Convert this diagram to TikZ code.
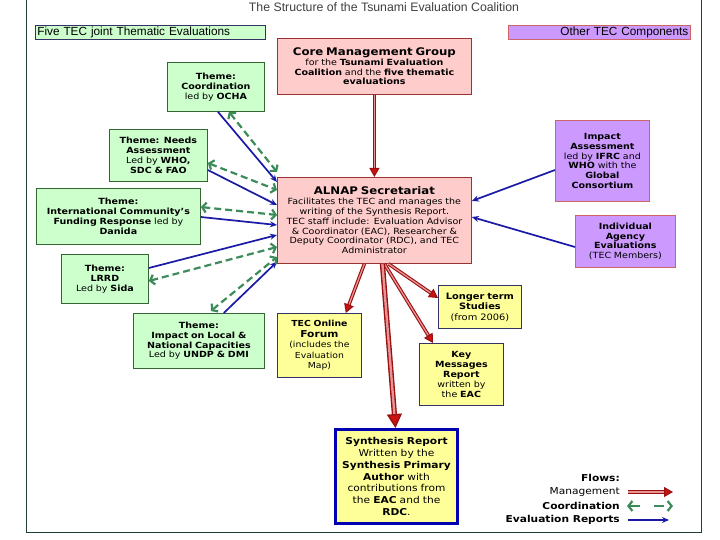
\documentclass[tikz,border=0pt]{standalone}
\usepackage{fontspec}
\setmainfont{DejaVu Sans}[FakeStretch=1.12]
\newfontfamily\arialfont{Liberation Sans}
\usetikzlibrary{arrows.meta,calc}
\definecolor{gfill}{HTML}{CCFFCC}
\definecolor{gdraw}{HTML}{336633}
\definecolor{pfill}{HTML}{FFCCCC}
\definecolor{pdraw}{HTML}{993333}
\definecolor{vfill}{HTML}{CC99FF}
\definecolor{vdraw}{HTML}{CC6666}
\definecolor{yfill}{HTML}{FFFF99}
\definecolor{ydraw}{HTML}{333366}
\definecolor{navy}{HTML}{1A1AA6}
\definecolor{cgreen}{HTML}{3C8C5A}
\definecolor{mred}{HTML}{CC1111}
\definecolor{dred}{HTML}{991111}
\definecolor{framec}{HTML}{1F3F2F}
\tikzset{
  box/.style={draw, line width=0.8pt, align=center, inner sep=1pt, anchor=north west,
    font=\fontsize{8.5}{9.8}\selectfont},
  gbox/.style={box, fill=gfill, draw=gdraw},
  pbox/.style={box, fill=pfill, draw=pdraw},
  vbox/.style={box, fill=vfill, draw=vdraw},
  ybox/.style={box, fill=yfill, draw=ydraw},
  evalflow/.style={draw=navy, line width=1.7pt, -{Stealth[length=7pt,width=6pt]}},
  coordflow/.style={draw=cgreen, line width=2.2pt, dash pattern=on 7pt off 4pt,
    {Straight Barb[length=4pt,width=10pt,line width=2.2pt]}-{Straight Barb[length=4pt,width=10pt,line width=2.2pt]}},
  mgmtflow/.style={draw=dred, double=mred!45, double distance=1.3pt, line width=1.1pt,
    -{Triangle[length=9pt,width=10pt,fill=mred]}},
  bigflow/.style={draw=dred, double=mred!45, double distance=2.4pt, line width=1.4pt,
    -{Triangle[length=14pt,width=15pt,fill=mred]}},
  legtxt/.style={anchor=east, font=\fontsize{9.5}{11}\selectfont, inner sep=1pt}
}
\begin{document}
\begin{tikzpicture}[x=1pt,y=-1pt]
\useasboundingbox (0,0) rectangle (720,540);
\fill[white] (0,0) rectangle (720,540);
\draw[framec, line width=0.8pt] (26,-5) rectangle (701,532);

\node[font=\arialfont\fontsize{12.3}{14}\selectfont, text=black!75] (title) at (384,7) {The Structure of the Tsunami Evaluation Coalition};
\node[draw=ydraw, fill=gfill, line width=0.6pt, anchor=north west, minimum width=230pt, minimum height=14pt, text width=226pt, inner sep=1pt, align=left, font=\arialfont\fontsize{11.8}{12}\selectfont] (legg) at (35,25) {Five TEC joint Thematic Evaluations};
\node[draw=vdraw, fill=vfill, line width=0.6pt, anchor=north west, minimum width=182pt, minimum height=14pt, text width=178pt, inner sep=1pt, align=right, font=\arialfont\fontsize{11.8}{12}\selectfont] (legv) at (508,25) {Other TEC Components};

% core and ALNAP
\node[pbox, minimum width=194pt, minimum height=56pt, text width=190pt] (core) at (277,38)
 {{\fontsize{10.5}{12.5}\selectfont\textbf{Core Management Group}}\\for the \textbf{Tsunami Evaluation}\\\textbf{Coalition} and the \textbf{five thematic}\\\textbf{evaluations}};
\node[pbox, minimum width=194pt, minimum height=86pt, text width=190pt] (alnap) at (277,177)
 {{\fontsize{10.5}{12.5}\selectfont\textbf{ALNAP Secretariat}}\\Facilitates the TEC and manages the\\writing of the Synthesis Report.\\TEC staff include: Evaluation Advisor\\\& Coordinator (EAC), Researcher \&\\Deputy Coordinator (RDC), and TEC\\Administrator};

% green themes
\node[gbox, minimum width=97pt, minimum height=49pt, text width=93pt] (coord) at (167,62)
 {\textbf{Theme:}\\\textbf{Coordination}\\led by \textbf{OCHA}};
\node[gbox, minimum width=98pt, minimum height=52pt, text width=94pt] (needs) at (109,129)
 {\textbf{Theme: Needs}\\\textbf{Assessment}\\Led by \textbf{WHO,}\\\textbf{SDC \& FAO}};
\node[gbox, minimum width=164pt, minimum height=56pt, text width=160pt] (intl) at (36,188)
 {\textbf{Theme:}\\\textbf{International Community's}\\\textbf{Funding Response} led by\\\textbf{Danida}};
\node[gbox, minimum width=87pt, minimum height=49pt, text width=83pt] (lrrd) at (61,254)
 {\textbf{Theme:}\\\textbf{LRRD}\\Led by \textbf{Sida}};
\node[gbox, minimum width=131pt, minimum height=55pt, text width=127pt] (local) at (133,313)
 {\textbf{Theme:}\\\textbf{Impact on Local \&}\\\textbf{National Capacities}\\Led by \textbf{UNDP \& DMI}};

% purple
\node[vbox, minimum width=94pt, minimum height=81pt, text width=90pt] (impact) at (555,120)
 {\textbf{Impact}\\\textbf{Assessment}\\led by \textbf{IFRC} and\\\textbf{WHO} with the\\\textbf{Global}\\\textbf{Consortium}};
\node[vbox, minimum width=100pt, minimum height=52pt, text width=96pt] (indiv) at (575,215)
 {\textbf{Individual}\\\textbf{Agency}\\\textbf{Evaluations}\\(TEC Members)};

% yellow
\node[ybox, minimum width=83pt, minimum height=43pt, text width=79pt, font=\fontsize{8.8}{10.5}\selectfont] (longer) at (438,285)
 {\textbf{Longer term}\\\textbf{Studies}\\(from 2006)};
\node[ybox, minimum width=84pt, minimum height=64pt, text width=80pt, font=\fontsize{8.3}{10.5}\selectfont] (online) at (277,313)
 {\textbf{TEC Online}\\{\fontsize{9.5}{12}\selectfont\textbf{Forum}}\\(includes the\\Evaluation\\Map)};
\node[ybox, minimum width=84pt, minimum height=62pt, text width=80pt] (key) at (419,343)
 {\textbf{Key}\\\textbf{Messages}\\\textbf{Report}\\written by\\the \textbf{EAC}};
\node[ybox, draw=blue!70!black, line width=3pt, minimum width=122pt, minimum height=94pt, text width=118pt, font=\fontsize{9.5}{11.8}\selectfont] (synth) at (334,428)
 {\textbf{Synthesis Report}\\Written by the\\\textbf{Synthesis Primary}\\\textbf{Author} with\\contributions from\\the \textbf{EAC} and the\\\textbf{RDC}.};

% management flows
\draw[mgmtflow] (core.south) -- (alnap.north);
\draw[mgmtflow] ([xshift=-10pt]alnap.south) -- ([xshift=-16pt]online.north east);
\draw[mgmtflow] ([xshift=14pt]alnap.south) -- ([yshift=-13pt]longer.north west);
\draw[mgmtflow] ([xshift=10pt]alnap.south) -- ([xshift=14pt]key.north west);
\draw[bigflow] ([xshift=8pt]alnap.south) -- ([xshift=-1pt]synth.north);

% evaluation report flows (left)
\draw[evalflow] ([xshift=2pt]coord.south) -- ([yshift=-5pt]alnap.north west);
\draw[evalflow] ([yshift=-41pt]needs.north east) -- ([yshift=-28pt]alnap.north west);
\draw[evalflow] ([yshift=-29pt]intl.north east) -- ([yshift=-48pt]alnap.north west);
\draw[evalflow] ([yshift=-14pt]lrrd.north east) -- ([yshift=-58pt]alnap.north west);
\draw[evalflow] ([xshift=-41pt]local.north east) -- ([yshift=2pt]alnap.south west);
% right
\draw[evalflow] ([yshift=-50pt]impact.north west) -- ([yshift=-24pt]alnap.north east);
\draw[evalflow] ([yshift=-32pt]indiv.north west) -- ([yshift=-40pt]alnap.north east);

% coordination flows
\draw[coordflow] ([xshift=13pt]coord.south) -- ([yshift=5pt]alnap.north west);
\draw[coordflow] ([yshift=-34pt]needs.north east) -- ([yshift=-13pt]alnap.north west);
\draw[coordflow] ([yshift=-19pt]intl.north east) -- ([yshift=-38pt]alnap.north west);
\draw[coordflow] ([yshift=-27pt]lrrd.north east) -- ([yshift=-70pt]alnap.north west);
\draw[coordflow] ([xshift=-54pt,yshift=2pt]local.north east) -- ([yshift=-80pt]alnap.north west);

% legend
\node[legtxt, font=\bfseries\fontsize{9.5}{11}\selectfont] (lflows) at (621,478) {Flows:};
\node[legtxt] (lmgmt) at (621,492) {Management};
\node[legtxt, font=\bfseries\fontsize{9.5}{11}\selectfont] (lcoord) at (621,506) {Coordination};
\node[legtxt, font=\bfseries\fontsize{9.5}{11}\selectfont] (leval) at (621,520) {Evaluation Reports};
\coordinate (m1) at (628,492); \coordinate (m2) at (673,492);
\coordinate (c1) at (627,506); \coordinate (c2) at (673,506);
\coordinate (e1) at (628,520); \coordinate (e2) at (669,520);
\draw[mgmtflow] (m1) -- (m2);
\draw[coordflow, dash pattern=on 10pt off 14pt] (c1) -- (c2);
\draw[evalflow] (e1) -- (e2);
\end{tikzpicture}
\end{document}
